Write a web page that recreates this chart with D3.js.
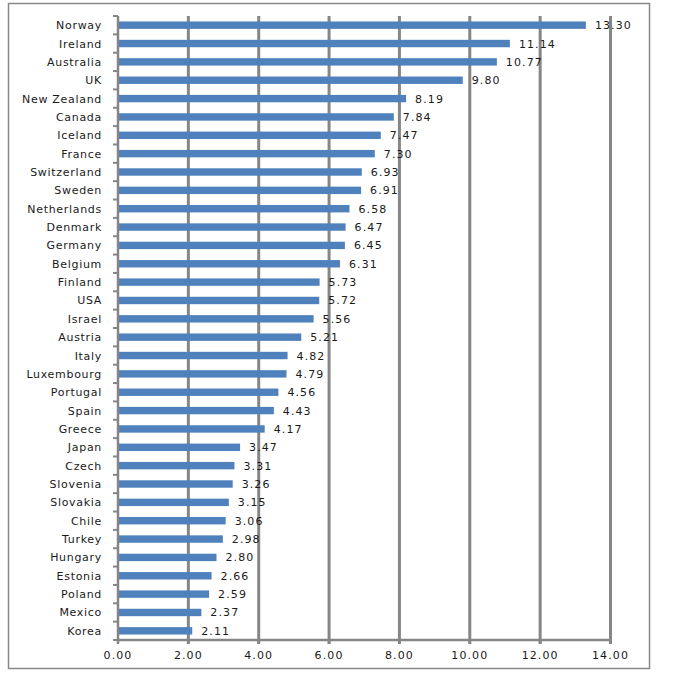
<!DOCTYPE html>
<html><head><meta charset="utf-8">
<script src="https://cdn.jsdelivr.net/npm/d3@7/dist/d3.min.js"></script>
<style>body{margin:0;background:#fff}</style>
</head><body>
<script>
const countries = ["Norway","Ireland","Australia","UK","New Zealand","Canada","Iceland","France","Switzerland","Sweden","Netherlands","Denmark","Germany","Belgium","Finland","USA","Israel","Austria","Italy","Luxembourg","Portugal","Spain","Greece","Japan","Czech","Slovenia","Slovakia","Chile","Turkey","Hungary","Estonia","Poland","Mexico","Korea"];
const values = [13.30,11.14,10.77,9.80,8.19,7.84,7.47,7.30,6.93,6.91,6.58,6.47,6.45,6.31,5.73,5.72,5.56,5.21,4.82,4.79,4.56,4.43,4.17,3.47,3.31,3.26,3.15,3.06,2.98,2.80,2.66,2.59,2.37,2.11];
const xTicks = [0,2,4,6,8,10,12,14];

(function(){
const W = 673, H = 683;
const svg = d3.select("body").append("svg").attr("width", W).attr("height", H);
svg.append("rect").attr("x", 8.5).attr("y", 3.5).attr("width", 641).attr("height", 665)
  .attr("fill", "none").attr("stroke", "#888").attr("stroke-width", 1.5);

const pL = 118, pR = 610.5, pT = 16, pB = 640;
const x = d3.scaleLinear().domain([0, 14]).range([pL, pR]);
const yb = d3.scaleBand().domain(countries).range([pT, pB]);
const font = "DejaVu Sans";
const barH = 7.4;

// gridlines
svg.append("g").selectAll("line").data(xTicks.slice(1)).join("line")
  .attr("x1", d => x(d)).attr("x2", d => x(d)).attr("y1", pT).attr("y2", pB + 4)
  .attr("stroke", "#868686").attr("stroke-width", 3);

// bars
svg.append("g").selectAll("rect").data(countries).join("rect")
  .attr("x", pL).attr("y", d => yb(d) + yb.bandwidth()/2 - barH/2)
  .attr("width", (d, i) => x(values[i]) - pL).attr("height", barH)
  .attr("fill", "#4f81bd");

// left axis line
svg.append("line").attr("x1", pL).attr("x2", pL).attr("y1", pT).attr("y2", pB + 1)
  .attr("stroke", "#868686").attr("stroke-width", 2.5);
// bottom axis line
svg.append("line").attr("x1", pL - 1).attr("x2", pR + 1).attr("y1", pB).attr("y2", pB)
  .attr("stroke", "#868686").attr("stroke-width", 2.5);
// left ticks at band boundaries
const bounds = countries.map(c => yb(c)).concat([pB]);
svg.append("g").selectAll("line").data(bounds).join("line")
  .attr("x1", pL - 5).attr("x2", pL).attr("y1", d => d).attr("y2", d => d)
  .attr("stroke", "#868686").attr("stroke-width", 2);
// bottom ticks
svg.append("g").selectAll("line").data(xTicks).join("line")
  .attr("x1", d => x(d)).attr("x2", d => x(d)).attr("y1", pB).attr("y2", pB + 4)
  .attr("stroke", "#868686").attr("stroke-width", 2.5);

// category labels
svg.append("g").selectAll("text").data(countries).join("text")
  .attr("x", 102).attr("y", d => yb(d) + yb.bandwidth()/2 + 4)
  .attr("text-anchor", "end").attr("font-family", font).attr("font-size", 11)
  .attr("letter-spacing", 0.7).attr("fill", "#1a1a1a").text(d => d);

// value labels
svg.append("g").selectAll("text").data(countries).join("text")
  .attr("x", (d, i) => x(values[i]) + 9).attr("y", d => yb(d) + yb.bandwidth()/2 + 4)
  .attr("font-family", font).attr("font-size", 11)
  .attr("letter-spacing", 1.1).attr("fill", "#1a1a1a").text((d, i) => values[i].toFixed(2));

// x tick labels
svg.append("g").selectAll("text").data(xTicks).join("text")
  .attr("x", d => x(d)).attr("y", 659)
  .attr("text-anchor", "middle").attr("font-family", font).attr("font-size", 11)
  .attr("letter-spacing", 1.1).attr("fill", "#1a1a1a").text(d => d.toFixed(2));
})();
</script>
</body></html>
